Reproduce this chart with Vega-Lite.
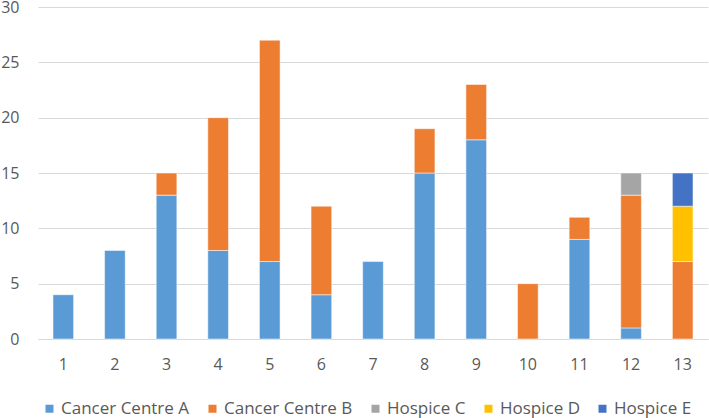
{
  "$schema": "https://vega.github.io/schema/vega-lite/v6.json",
  "width": 670,
  "height": 332,
  "autosize": "none",
  "padding": {"left": 38, "top": 7, "right": 1, "bottom": 79},
  "background": "white",
  "config": {
    "view": {"stroke": null},
    "font": "Open Sans"
  },
  "data": {
    "values": [
      {"cat": 1, "series": "Cancer Centre A", "v": 4},
      {"cat": 2, "series": "Cancer Centre A", "v": 8},
      {"cat": 3, "series": "Cancer Centre A", "v": 13},
      {"cat": 3, "series": "Cancer Centre B", "v": 2},
      {"cat": 4, "series": "Cancer Centre A", "v": 8},
      {"cat": 4, "series": "Cancer Centre B", "v": 12},
      {"cat": 5, "series": "Cancer Centre A", "v": 7},
      {"cat": 5, "series": "Cancer Centre B", "v": 20},
      {"cat": 6, "series": "Cancer Centre A", "v": 4},
      {"cat": 6, "series": "Cancer Centre B", "v": 8},
      {"cat": 7, "series": "Cancer Centre A", "v": 7},
      {"cat": 8, "series": "Cancer Centre A", "v": 15},
      {"cat": 8, "series": "Cancer Centre B", "v": 4},
      {"cat": 9, "series": "Cancer Centre A", "v": 18},
      {"cat": 9, "series": "Cancer Centre B", "v": 5},
      {"cat": 10, "series": "Cancer Centre B", "v": 5},
      {"cat": 11, "series": "Cancer Centre A", "v": 9},
      {"cat": 11, "series": "Cancer Centre B", "v": 2},
      {"cat": 12, "series": "Cancer Centre A", "v": 1},
      {"cat": 12, "series": "Cancer Centre B", "v": 12},
      {"cat": 12, "series": "Hospice C", "v": 2},
      {"cat": 13, "series": "Cancer Centre B", "v": 7},
      {"cat": 13, "series": "Hospice D", "v": 5},
      {"cat": 13, "series": "Hospice E", "v": 3}
    ]
  },
  "mark": {"type": "bar", "stroke": "white", "strokeWidth": 0.5},
  "encoding": {
    "x": {
      "field": "cat",
      "type": "ordinal",
      "title": null,
      "scale": {"paddingInner": 0.6, "paddingOuter": 0.29},
      "axis": {
        "labelAngle": 0,
        "labelFontSize": 16,
        "labelColor": "#595959",
        "labelPadding": 17,
        "ticks": false,
        "domainColor": "#D9D9D9",
        "domainWidth": 1
      }
    },
    "y": {
      "field": "v",
      "type": "quantitative",
      "aggregate": "sum",
      "stack": "zero",
      "title": null,
      "scale": {"domain": [0, 30]},
      "axis": {
        "values": [0, 5, 10, 15, 20, 25, 30],
        "labelFontSize": 16,
        "labelColor": "#595959",
        "labelPadding": 19,
        "ticks": false,
        "domain": false,
        "gridColor": "#D9D9D9"
      }
    },
    "color": {
      "field": "series",
      "type": "nominal",
      "title": null,
      "scale": {
        "domain": ["Cancer Centre A", "Cancer Centre B", "Hospice C", "Hospice D", "Hospice E"],
        "range": ["#5B9BD5", "#ED7D31", "#A5A5A5", "#FFC000", "#4472C4"]
      },
      "legend": {
        "orient": "none",
        "legendX": 3,
        "legendY": 393,
        "direction": "horizontal",
        "symbolType": "square",
        "symbolSize": 64,
        "symbolStrokeWidth": 0,
        "symbolOffset": 0,
        "labelOffset": 3,
        "labelFontSize": 17,
        "labelColor": "#595959",
        "columnPadding": 14,
        "labelLimit": 250
      }
    },
    "order": {"field": "series", "sort": "ascending"}
  }
}
